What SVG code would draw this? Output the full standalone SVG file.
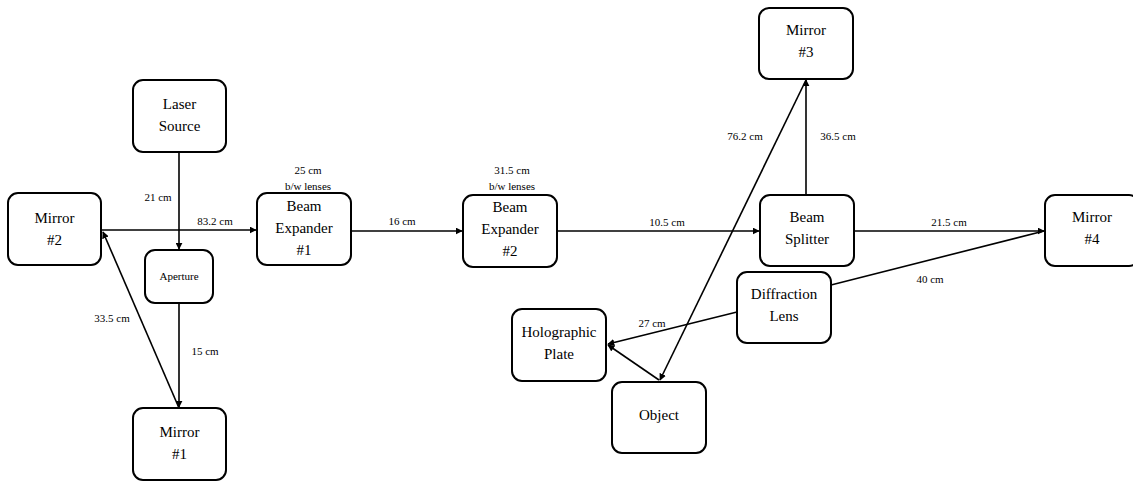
<svg xmlns="http://www.w3.org/2000/svg" width="1133" height="481" viewBox="0 0 1133 481">
<style>
.n rect{fill:#fff;stroke:#000;stroke-width:2}
.n text{font-family:'Liberation Serif','Times New Roman','DejaVu Serif',serif;font-size:15px;fill:#000;text-anchor:middle;dominant-baseline:central}
.l{font-family:'Liberation Serif','Times New Roman','DejaVu Serif',serif;font-size:11px;fill:#000;text-anchor:middle;dominant-baseline:central}
#edges line{stroke:#000;stroke-width:1.6;fill:none}
</style>
<defs>
<marker id="ah" viewBox="0 0 10 10" refX="9" refY="5" markerWidth="7" markerHeight="7" markerUnits="userSpaceOnUse" orient="auto">
<path d="M0,0 L10,5 L0,10 z" fill="#000"/>
</marker>
</defs>
<rect width="1133" height="481" fill="#fff"/>
<g id="edges">
<line x1="179" y1="152" x2="179" y2="249" marker-end="url(#ah)"/>
<line x1="102" y1="230" x2="256" y2="230" marker-end="url(#ah)"/>
<line x1="179" y1="303" x2="179" y2="407" marker-end="url(#ah)"/>
<line x1="179" y1="408" x2="103" y2="232" marker-end="url(#ah)"/>
<line x1="351" y1="231" x2="462" y2="231" marker-end="url(#ah)"/>
<line x1="557" y1="231" x2="759" y2="231" marker-end="url(#ah)"/>
<line x1="806" y1="195" x2="806" y2="80" marker-end="url(#ah)"/>
<line x1="806" y1="80" x2="660" y2="380" marker-end="url(#ah)"/>
<line x1="854" y1="231" x2="1044" y2="231" marker-end="url(#ah)"/>
<line x1="831" y1="285" x2="1044" y2="231"/>
<line x1="737" y1="312" x2="608" y2="344" marker-end="url(#ah)"/>
<line x1="659" y1="380" x2="608" y2="345" marker-end="url(#ah)"/>
<text class="l" x="158" y="197">21 cm</text>
<text class="l" x="215" y="221">83.2 cm</text>
<text class="l" x="112" y="318">33.5 cm</text>
<text class="l" x="205" y="351">15 cm</text>
<text class="l" x="308" y="170">25 cm</text>
<text class="l" x="308" y="186">b/w lenses</text>
<text class="l" x="402" y="221">16 cm</text>
<text class="l" x="512" y="170">31.5 cm</text>
<text class="l" x="512" y="186">b/w lenses</text>
<text class="l" x="667" y="222">10.5 cm</text>
<text class="l" x="745" y="136">76.2 cm</text>
<text class="l" x="838" y="136">36.5 cm</text>
<text class="l" x="949" y="222">21.5 cm</text>
<text class="l" x="930" y="279">40 cm</text>
<text class="l" x="652" y="323">27 cm</text>
</g>
<g id="laser" class="n"><rect x="133" y="80" width="93" height="72" rx="10"/><text x="179.5" y="104">Laser</text><text x="179.5" y="126">Source</text></g>
<g id="mirror2" class="n"><rect x="8" y="193" width="93" height="72" rx="10"/><text x="54.5" y="218">Mirror</text><text x="54.5" y="240">#2</text></g>
<g id="aperture" class="n"><rect x="145" y="250" width="68" height="53" rx="10"/><text x="179" y="276" style="font-size:11px">Aperture</text></g>
<g id="mirror1" class="n"><rect x="133" y="408" width="93" height="72" rx="10"/><text x="179.5" y="432">Mirror</text><text x="179.5" y="454">#1</text></g>
<g id="be1" class="n"><rect x="257" y="193" width="94" height="72" rx="10"/><text x="304" y="206">Beam</text><text x="304" y="228">Expander</text><text x="304" y="250">#1</text></g>
<g id="be2" class="n"><rect x="463" y="195" width="94" height="72" rx="10"/><text x="510" y="207">Beam</text><text x="510" y="229">Expander</text><text x="510" y="251">#2</text></g>
<g id="mirror3" class="n"><rect x="759" y="8" width="94" height="71" rx="10"/><text x="806" y="30">Mirror</text><text x="806" y="52">#3</text></g>
<g id="splitter" class="n"><rect x="760" y="195" width="94" height="71" rx="10"/><text x="807" y="217">Beam</text><text x="807" y="239">Splitter</text></g>
<g id="mirror4" class="n"><rect x="1045" y="195" width="94" height="71" rx="10"/><text x="1092" y="217">Mirror</text><text x="1092" y="239">#4</text></g>
<g id="diffraction" class="n"><rect x="737" y="272" width="94" height="71" rx="10"/><text x="784" y="294">Diffraction</text><text x="784" y="316">Lens</text></g>
<g id="plate" class="n"><rect x="512" y="309" width="94" height="72" rx="10"/><text x="559" y="332">Holographic</text><text x="559" y="354">Plate</text></g>
<g id="object" class="n"><rect x="612" y="382" width="94" height="71" rx="10"/><text x="659" y="415">Object</text></g>
</svg>
